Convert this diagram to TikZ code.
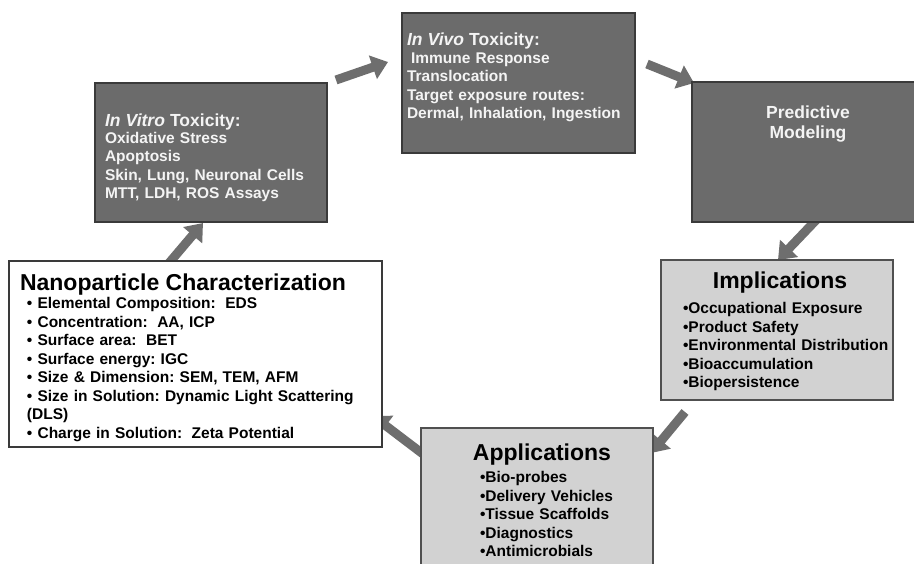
\documentclass[tikz,border=0pt]{standalone}
\usepackage{fontspec}
\setmainfont{Liberation Sans}
\usetikzlibrary{arrows.meta,backgrounds}
\definecolor{darkfill}{HTML}{6B6B6B}
\definecolor{darkline}{HTML}{3A3A3A}
\definecolor{lightfill}{HTML}{D2D2D2}
\definecolor{lightline}{HTML}{505050}
\definecolor{arrowgray}{HTML}{6E6E6E}
\definecolor{whitetext}{HTML}{F4F4F4}
\frenchspacing
\newcommand\szitem{\fontsize{15.5}{18.5}\selectfont}
\newcommand\szsub{\fontsize{17.5}{20}\selectfont}
\newcommand\szhead{\fontsize{23}{27}\selectfont}
\newcommand\dsp{\hspace{4.3pt} }
\begin{document}
\begin{tikzpicture}[x=1pt,y=-1pt,
  box/.style={rectangle, anchor=north west, inner sep=0pt, outer sep=0pt, line width=1.5pt},
  darkbox/.style={box, fill=darkfill, draw=darkline},
  lightbox/.style={box, fill=lightfill, draw=lightline},
  whitebox/.style={box, fill=white, draw=darkline, line width=1.3pt},
  txt/.style={inner sep=0pt, outer sep=0pt, anchor=base west, align=left, text width=#1, font=\bfseries\szitem},
  wtxt/.style={txt=#1, text=whitetext},
  headtxt/.style={inner sep=0pt, outer sep=0pt, anchor=base, font=\bfseries\szhead},
  bigarrow/.style={draw=arrowgray, line width=9pt, -{Triangle[length=16pt,width=24pt]}}]
\useasboundingbox (0,0) rectangle (914,563);

% boxes
\node[darkbox, minimum width=232pt, minimum height=139pt] (vitro) at (95,83) {};
\node[darkbox, minimum width=233pt, minimum height=140pt] (vivo) at (402,13) {};
\node[darkbox, minimum width=232pt, minimum height=140pt] (pred) at (692,82) {};
\node[lightbox, minimum width=232pt, minimum height=140pt] (impl) at (661,260) {};
\node[lightbox, minimum width=232pt, minimum height=150pt] (apps) at (421,428) {};
\node[whitebox, minimum width=373pt, minimum height=186pt] (nano) at (9,261) {};

% texts
\node[wtxt=220pt] (vitrotext) at (105,126)
  {{\szsub\itshape In Vitro}{\szsub{} Toxicity:}\\[-1.5pt]
   Oxidative Stress\\ Apoptosis\\ Skin, Lung, Neuronal Cells\\ MTT, LDH, ROS Assays};
\node[wtxt=225pt] (vivotext) at (407,45)
  {{\szsub\itshape In Vivo}{\szsub{} Toxicity:}\\[-0.5pt]
   \hspace*{4pt}Immune Response\\ Translocation\\ Target exposure routes:\\ Dermal, Inhalation, Ingestion};
\node[inner sep=0pt, anchor=base, align=center, text=whitetext, font=\bfseries\szsub] (predtext) at (808,138)
  {Predictive\\Modeling};
\node[headtxt] (impltitle) at (780,288) {Implications};
\node[txt=210pt] (impllist) at (683,313.5)
  {•Occupational Exposure\\ •Product Safety\\ •Environmental Distribution\\ •Bioaccumulation\\ •Biopersistence};
\node[headtxt] (appstitle) at (542,460) {Applications};
\node[txt=170pt] (appslist) at (480,482.5)
  {•Bio-probes\\ •Delivery Vehicles\\ •Tissue Scaffolds\\ •Diagnostics\\ •Antimicrobials};
\node[headtxt, anchor=base west] (nanotitle) at (20,290) {Nanoparticle Characterization};
\node[txt=350pt] (nanolist) at (27,308.5)
  {• Elemental Composition:\dsp EDS\\
   • Concentration:\dsp AA, ICP\\
   • Surface area:\dsp BET\\
   • Surface energy: IGC\\
   • Size \& Dimension: SEM, TEM, AFM\\
   • Size in Solution: Dynamic Light Scattering\\
   (DLS)\\
   • Charge in Solution:\dsp Zeta Potential};

% arrows
\begin{pgfonlayer}{background}
\fill[white] (0,0) rectangle (914,563);
\draw[bigarrow] ([shift={(9,-3)}]vitro.north east) -- ([shift={(-14,49)}]vivo.north west);
\draw[bigarrow] ([shift={(12,51)}]vivo.north east) -- ([shift={(2,1)}]pred.north west);
\draw[bigarrow] ([shift={(11,-5)}]pred.south) -- ([shift={(1,0)}]impl.north);
\draw[bigarrow] ([shift={(24,12)}]impl.south west) -- ([shift={(-2,25)}]apps.north east);
\draw[bigarrow] ([shift={(2,26)}]apps.north west) -- ([shift={(-9,-31)}]nano.south east);
\draw[bigarrow] ([shift={(-29,5)}]nano.north) -- ([shift={(-8,1)}]vitro.south);
\end{pgfonlayer}
\end{tikzpicture}
\end{document}
